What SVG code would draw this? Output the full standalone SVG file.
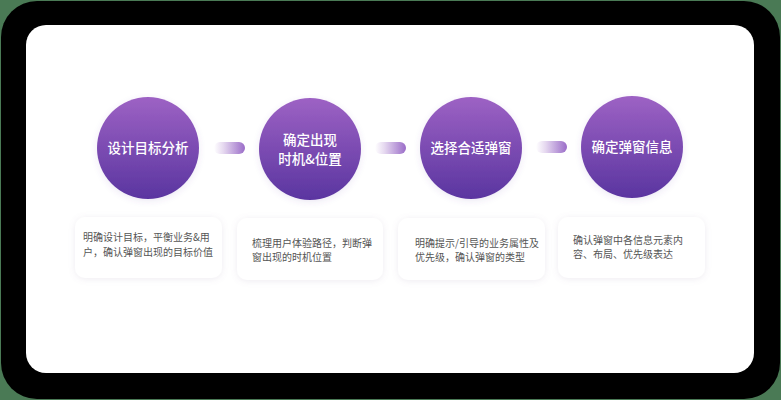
<svg xmlns="http://www.w3.org/2000/svg" width="781" height="400" viewBox="0 0 781 400">
<defs>
<linearGradient id="cg" x1="0" y1="0" x2="0" y2="1">
<stop offset="0" stop-color="#9d62c4"/>
<stop offset="1" stop-color="#5a35a0"/>
</linearGradient>
<linearGradient id="pg" x1="0" y1="0" x2="1" y2="0">
<stop offset="0" stop-color="#ffffff"/>
<stop offset="0.3" stop-color="#e6d9f0"/>
<stop offset="1" stop-color="#9a6cc8"/>
</linearGradient>
<filter id="sh" x="-20%" y="-30%" width="140%" height="160%">
<feDropShadow dx="0" dy="1" stdDeviation="3" flood-color="#8a7aa0" flood-opacity="0.15"/>
</filter>
<filter id="csh" x="-20%" y="-20%" width="140%" height="140%">
<feDropShadow dx="0" dy="2" stdDeviation="3" flood-color="#6a40a8" flood-opacity="0.12"/>
</filter>
<style>
.ct{font-family:"Noto Sans CJK SC","Noto Sans",sans-serif;font-size:13.5px;font-weight:500;fill:#ffffff;text-anchor:middle}
.dt{font-family:"Noto Sans CJK SC","Noto Sans",sans-serif;font-size:10px;fill:#555555}
.card{fill:#ffffff;filter:url(#sh)}
.circ{fill:url(#cg);filter:url(#csh)}
.pill{fill:url(#pg)}
</style>
</defs>
<rect x="0" y="0" width="781" height="400" fill="#4a7a55"/>
<rect x="1" y="1" width="779" height="398" rx="36" fill="#000000"/>
<rect x="26" y="25" width="728" height="348" rx="20" fill="#ffffff"/>
<g id="connectors">
<rect class="pill" x="214" y="142" width="31" height="12" rx="6"/>
<rect class="pill" x="375" y="142" width="31" height="12" rx="6"/>
<rect class="pill" x="536" y="141" width="31" height="12" rx="6"/>
</g>
<g id="node1">
<circle class="circ" cx="148" cy="148" r="51"/>
<text class="ct" x="148" y="153">设计目标分析</text>
</g>
<g id="node2">
<circle class="circ" cx="310" cy="149" r="51"/>
<text class="ct" x="310" y="145">确定出现</text>
<text class="ct" x="310" y="164">时机&amp;位置</text>
</g>
<g id="node3">
<circle class="circ" cx="471" cy="148" r="51"/>
<text class="ct" x="471" y="153">选择合适弹窗</text>
</g>
<g id="node4">
<circle class="circ" cx="632" cy="147" r="51"/>
<text class="ct" x="632" y="152">确定弹窗信息</text>
</g>
<g id="card1">
<rect class="card" x="75" y="217" width="147" height="61" rx="10"/>
<text class="dt" x="83" y="241">明确设计目标，平衡业务&amp;用</text>
<text class="dt" x="83" y="256">户，确认弹窗出现的目标价值</text>
</g>
<g id="card2">
<rect class="card" x="237" y="218" width="146" height="62" rx="10"/>
<text class="dt" x="252" y="247">梳理用户体验路径，判断弹</text>
<text class="dt" x="252" y="261">窗出现的时机位置</text>
</g>
<g id="card3">
<rect class="card" x="398" y="218" width="147" height="62" rx="10"/>
<text class="dt" x="415" y="247">明确提示/引导的业务属性及</text>
<text class="dt" x="415" y="261">优先级，确认弹窗的类型</text>
</g>
<g id="card4">
<rect class="card" x="558" y="217" width="147" height="61" rx="10"/>
<text class="dt" x="573" y="244">确认弹窗中各信息元素内</text>
<text class="dt" x="573" y="258">容、布局、优先级表达</text>
</g>
</svg>
